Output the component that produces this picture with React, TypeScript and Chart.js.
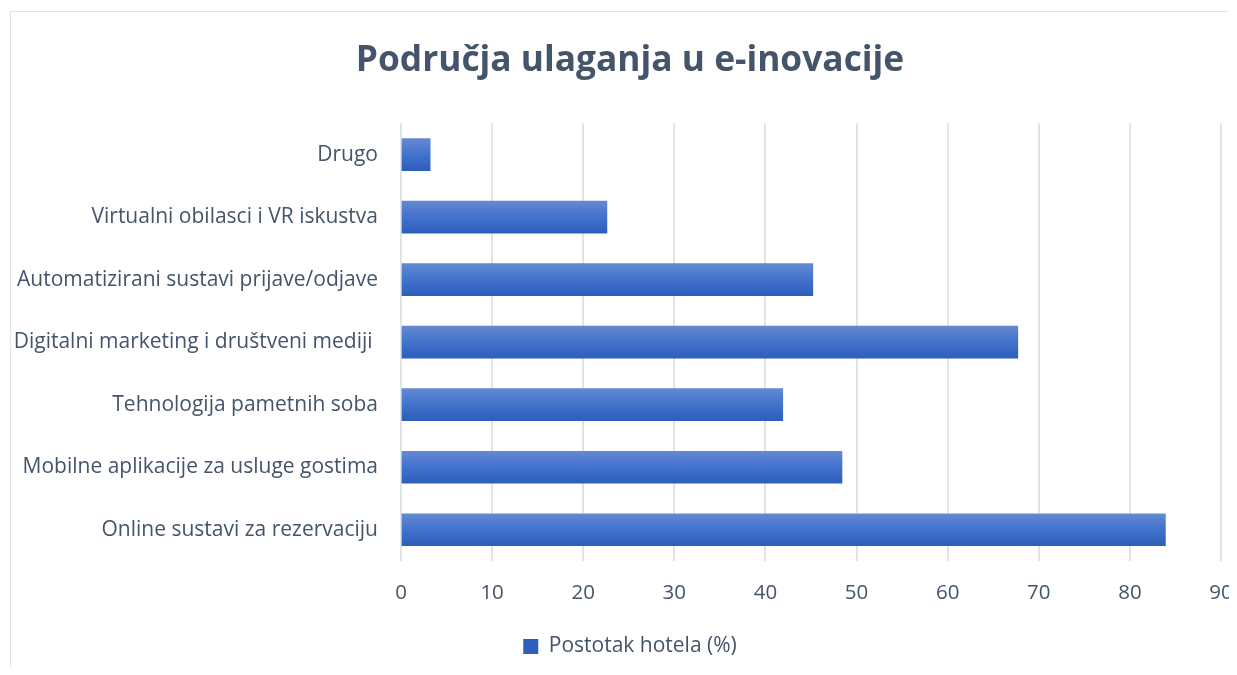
import React, { useEffect, useRef } from "react";
import { Chart, registerables } from "chart.js";

Chart.register(...registerables);

const TITLE = "Područja ulaganja u e-inovacije";
const SERIES_LABEL = "Postotak hotela (%)";
const categories = [
  "Drugo",
  "Virtualni obilasci i VR iskustva",
  "Automatizirani sustavi prijave/odjave",
  "Digitalni marketing i društveni mediji ",
  "Tehnologija pametnih soba",
  "Mobilne aplikacije za usluge gostima",
  "Online sustavi za rezervaciju",
];
const values = [3.2, 22.6, 45.2, 67.7, 41.9, 48.4, 83.9];
const xMin = 0;
const xMax = 90;
const xStep = 10;

const TEXT = "#44546A";
const FONT = "'Open Sans', 'Noto Sans', sans-serif";
const CANVAS_W = 1244;

export default function App() {
  const ref = useRef<HTMLCanvasElement | null>(null);

  useEffect(() => {
    const canvas = ref.current;
    if (!canvas) return;
    const barColor = (ctx: any) => {
      const chart = ctx.chart;
      const y = chart.scales && chart.scales.y;
      if (ctx.type !== "data" || !y || !chart.chartArea) return "#4472C4";
      const c = y.getPixelForValue(ctx.dataIndex);
      const g = chart.ctx.createLinearGradient(0, c - 16, 0, c + 16);
      g.addColorStop(0, "#6389D2");
      g.addColorStop(0.5, "#4272CC");
      g.addColorStop(1, "#2C5EBA");
      return g;
    };
    const chart = new Chart(canvas, {
      type: "bar",
      data: {
        labels: categories,
        datasets: [
          {
            label: SERIES_LABEL,
            data: values,
            backgroundColor: barColor,
            borderWidth: 0,
            barThickness: 32,
          },
        ],
      },
      options: {
        indexAxis: "y",
        animation: false,
        responsive: false,
        maintainAspectRatio: false,
        layout: { padding: { left: 0, right: 0, top: 0, bottom: 0 } },
        scales: {
          x: {
            min: xMin,
            max: xMax,
            ticks: {
              stepSize: xStep,
              color: TEXT,
              font: { family: FONT, size: 20.5 },
              padding: 0,
            },
            grid: {
              color: "#dfe3ea",
              lineWidth: 2,
              drawTicks: true,
              tickLength: 20,
              tickColor: "rgba(0,0,0,0)",
            },
            border: { display: false },
            afterFit: (scale: any) => {
              scale.height = 66;
              scale.paddingRight = 31;
            },
          },
          y: {
            ticks: {
              color: TEXT,
              font: { family: FONT, size: 21 },
              padding: 23,
            },
            grid: { display: false, drawTicks: false },
            border: { display: false },
            afterFit: (scale: any) => {
              scale.width = 393;
            },
          },
        },
        plugins: {
          title: {
            display: true,
            text: TITLE,
            color: TEXT,
            font: { family: FONT, size: 35.3, weight: "bold" },
            padding: { top: 32, bottom: 41 },
          },
          legend: {
            display: true,
            position: "bottom",
            labels: {
              color: TEXT,
              font: { family: FONT, size: 21 },
              boxWidth: 15,
              boxHeight: 15,
              padding: 9,
            },
          },
          tooltip: { enabled: false },
        },
      },
    });
    return () => chart.destroy();
  }, []);

  return (
    <div style={{ position: "relative", width: 1229, height: 659, overflow: "hidden" }}>
      <div
        style={{
          position: "absolute",
          left: 2,
          top: 3,
          right: 0,
          bottom: 0,
          borderLeft: "1.5px solid #dfe3ea",
          borderTop: "1.5px solid #dfe3ea",
        }}
      />
      <canvas ref={ref} width={CANVAS_W} height={659} style={{ position: "absolute", left: 0, top: 0 }} />
    </div>
  );
}
